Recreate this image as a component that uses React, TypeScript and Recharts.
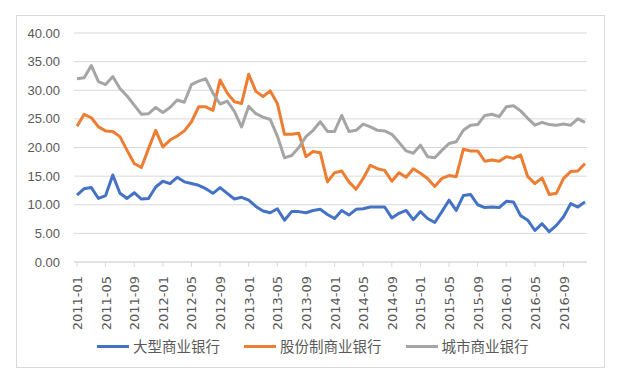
import { LineChart, Line, XAxis, YAxis, CartesianGrid } from 'recharts'

const months: string[] = []
for (let y = 2011; y <= 2016; y++) {
  for (let m = 1; m <= 12; m++) months.push(`${y}-${String(m).padStart(2, '0')}`)
}

const bigBanks = [
  11.7, 12.8, 13.0, 11.1, 11.6, 15.2, 12.0, 11.1, 12.1, 11.0, 11.1, 13.1,
  14.1, 13.7, 14.8, 14.0, 13.7, 13.4, 12.8, 12.0, 13.0, 12.0, 11.0, 11.3,
  10.8, 9.7, 8.9, 8.6, 9.3, 7.3, 8.8, 8.8, 8.6, 9.0, 9.2, 8.3,
  7.6, 9.0, 8.2, 9.2, 9.3, 9.6, 9.6, 9.6, 7.7, 8.5, 9.0, 7.4,
  8.8, 7.6, 6.9, 8.8, 10.8, 9.0, 11.6, 11.8, 10.0, 9.5, 9.6, 9.5,
  10.6, 10.5, 8.1, 7.3, 5.5, 6.7, 5.3, 6.4, 7.9, 10.2, 9.6, 10.5,
]

const jointStock = [
  23.7, 25.8, 25.2, 23.6, 22.9, 22.8, 21.9, 19.5, 17.2, 16.5, 19.8, 23.0,
  20.1, 21.3, 22.0, 22.9, 24.5, 27.1, 27.1, 26.5, 31.8, 29.5, 28.0, 27.7,
  32.8, 29.8, 28.9, 29.9, 27.7, 22.3, 22.3, 22.5, 18.4, 19.3, 19.1, 14.0,
  15.6, 15.9, 14.0, 12.7, 14.6, 16.9, 16.3, 16.0, 14.1, 15.6, 14.8, 16.3,
  15.5, 14.6, 13.2, 14.6, 15.1, 14.9, 19.7, 19.4, 19.4, 17.6, 17.8, 17.6,
  18.4, 18.1, 18.7, 14.9, 13.7, 14.7, 11.8, 12.0, 14.6, 15.8, 15.9, 17.2,
]

const cityBanks = [
  32.0, 32.2, 34.3, 31.5, 31.0, 32.4, 30.3, 29.0, 27.4, 25.8, 25.9, 27.0,
  26.1, 27.0, 28.3, 27.9, 31.0, 31.6, 32.0, 29.5, 27.6, 28.1, 26.3, 23.6,
  27.2, 25.9, 25.3, 24.9, 22.0, 18.2, 18.6, 20.0, 21.9, 23.0, 24.5, 22.8,
  22.8, 25.6, 22.8, 23.0, 24.1, 23.6, 23.0, 22.9, 22.3, 20.9, 19.4, 19.0,
  20.4, 18.4, 18.2, 19.5, 20.7, 21.0, 23.0, 23.9, 24.0, 25.6, 25.8, 25.4,
  27.1, 27.3, 26.4, 25.1, 23.9, 24.4, 24.0, 23.9, 24.1, 23.9, 25.0, 24.4,
]

const yTicks = [0, 5, 10, 15, 20, 25, 30, 35, 40]

const seriesNames = ['大型商业银行', '股份制商业银行', '城市商业银行']
const colors = ['#4472C4', '#ED7D31', '#A5A5A5']

const data = months.map((month, i) => ({
  month,
  big: bigBanks[i],
  joint: jointStock[i],
  city: cityBanks[i],
}))

const MonthTick = (props: any) => {
  const { x, y, payload } = props
  const tx = x + 5
  return (
    <text
      x={tx}
      y={y}
      transform={`rotate(-90, ${tx}, ${y})`}
      textAnchor="end"
      fill="#595959"
      fontSize={13}
      fontFamily="DejaVu Sans"
    >
      {payload.value}
    </text>
  )
}

export default function App() {
  return (
    <div style={{ padding: '7px 0 0 8px' }}>
      <div
        style={{
          position: 'relative',
          width: 589,
          height: 353,
          border: '1px solid #d9d9d9',
          boxSizing: 'border-box',
          background: '#fff',
        }}
      >
        <LineChart
          width={587}
          height={351}
          data={data}
          margin={{ top: 17, right: 17, left: 0, bottom: 0 }}
        >
          <CartesianGrid vertical={false} stroke="#d9d9d9" />
          <XAxis
            dataKey="month"
            interval={3}
            height={105}
            tick={<MonthTick />}
            tickSize={5}
            tickMargin={9}
            stroke="#d9d9d9"
            padding={{ left: 3, right: 2 }}
          />
          <YAxis
            width={57}
            domain={[0, 40]}
            ticks={yTicks}
            axisLine={false}
            tickLine={false}
            tickMargin={8}
            tickFormatter={(v: number) => v.toFixed(2)}
            tick={{ fontSize: 13, fill: '#595959', fontFamily: 'Liberation Sans' }}
          />
          <Line dataKey="big" name={seriesNames[0]} stroke={colors[0]} strokeWidth={3} dot={false} isAnimationActive={false} strokeLinejoin="round" />
          <Line dataKey="joint" name={seriesNames[1]} stroke={colors[1]} strokeWidth={3} dot={false} isAnimationActive={false} strokeLinejoin="round" />
          <Line dataKey="city" name={seriesNames[2]} stroke={colors[2]} strokeWidth={3} dot={false} isAnimationActive={false} strokeLinejoin="round" />
        </LineChart>
        <div
          style={{
            position: 'absolute',
            left: 80,
            top: 319,
            display: 'flex',
            alignItems: 'center',
            gap: 24,
            fontFamily: '"Noto Sans CJK SC"',
            fontSize: 14.5,
            color: '#595959',
            lineHeight: '22px',
          }}
        >
          {seriesNames.map((name, i) => (
            <div key={name} style={{ display: 'flex', alignItems: 'center' }}>
              <span style={{ width: 32, height: 3, background: colors[i], marginRight: 4 }} />
              <span>{name}</span>
            </div>
          ))}
        </div>
      </div>
    </div>
  )
}
